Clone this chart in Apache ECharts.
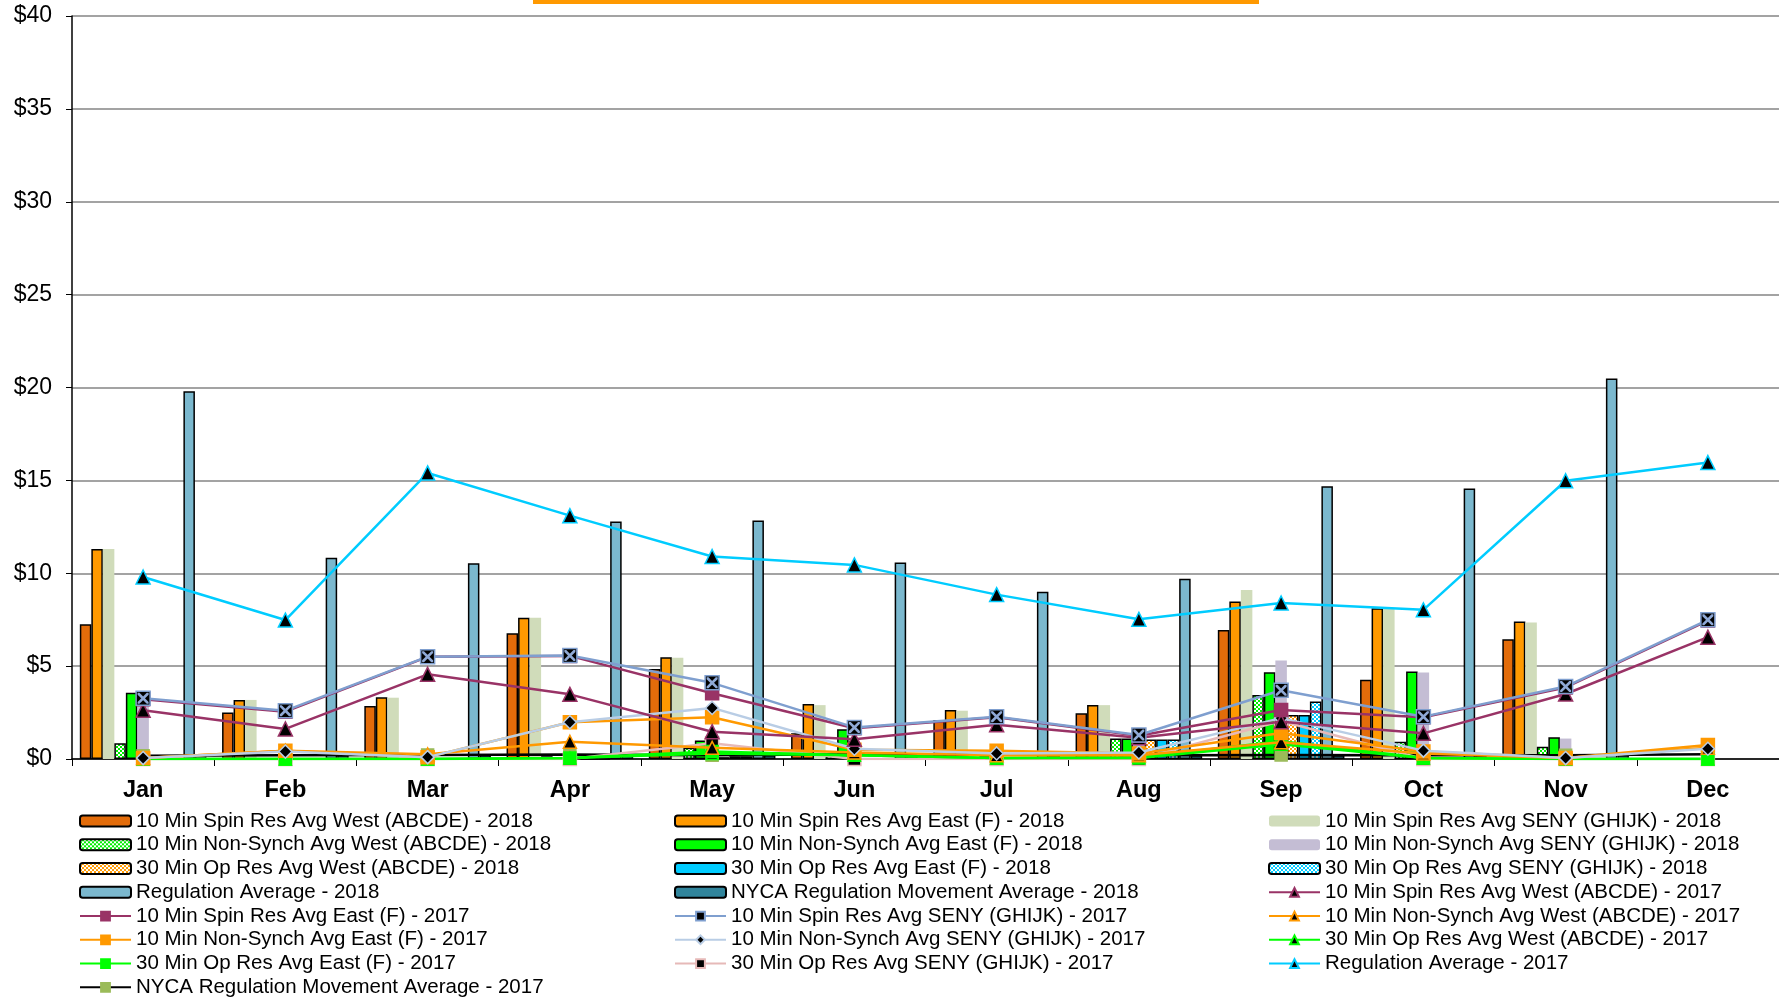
<!DOCTYPE html>
<html>
<head>
<meta charset="utf-8">
<title>Ancillary Services Averages 2017-2018</title>
<script src="https://cdn.jsdelivr.net/npm/echarts@6/dist/echarts.min.js"></script>
<style>
  html, body { margin: 0; padding: 0; background: #fff; }
  #chart { width: 1779px; height: 999px; }
</style>
</head>
<body>
<div id="chart"></div>
<script>
// Month categories
const months = ['Jan', 'Feb', 'Mar', 'Apr', 'May', 'Jun', 'Jul', 'Aug', 'Sep', 'Oct', 'Nov', 'Dec'];

// 2018 monthly averages ($/MWh), drawn as bars
const westSpin18 = [7.25, 2.5, 2.86, 6.77, 4.85, 1.38, 2.1, 2.46, 6.95, 4.26, 6.45, null];
const eastSpin18 = [11.3, 3.18, 3.32, 7.61, 5.48, 2.96, 2.64, 2.91, 8.48, 8.12, 7.4, null];
const senySpin18 = [11.3, 3.18, 3.3, 7.6, 5.45, 2.9, 2.6, 2.9, 9.1, 8.1, 7.35, null];
const westNS18 = [0.85, 0, 0, 0.15, 0.6, 0.25, 0.1, 1.1, 3.45, 0.93, 0.66, null];
const eastNS18 = [3.57, 0, 0, 0.1, 1.0, 1.6, 0.15, 1.1, 4.67, 4.71, 1.17, null];
const senyNS18 = [2.9, 0, 0, 0, 0.3, 0.2, 0.1, 1.3, 5.3, 4.66, 1.1, null];
const west30m18 = [0, 0, 0, 0, 0.1, 0, 0, 1.05, 2.37, 0, 0, null];
const east30m18 = [0, 0, 0, 0, 0.15, 0, 0, 1.05, 2.37, 0, 0, null];
const seny30m18 = [0, 0, 0, 0, 0.15, 0, 0, 1.05, 3.09, 0, 0, null];
const regAvg18 = [19.8, 10.83, 10.54, 12.78, 12.84, 10.58, 9.01, 9.7, 14.68, 14.56, 20.49, null];
const nycaMov18 = [0.2, 0.2, 0.2, 0.2, 0.2, 0.2, 0.2, 0.2, 0.2, 0.2, 0.2, null];

// 2017 monthly averages ($/MWh), drawn as lines
const westSpin17 = [2.62, 1.62, 4.56, 3.48, 1.47, 1.06, 1.85, 1.15, 2.0, 1.38, 3.5, 6.56];
const eastSpin17 = [3.22, 2.55, 5.5, 5.55, 3.54, 1.66, 2.25, 1.25, 2.64, 2.25, 3.85, 7.45];
const senySpin17 = [3.27, 2.6, 5.51, 5.57, 4.1, 1.7, 2.28, 1.29, 3.7, 2.28, 3.9, 7.49];
const westNS17 = [0.05, 0.45, 0.25, 0.93, 0.6, 0.35, 0.2, 0.2, 0.9, 0.3, 0.05, 0.6];
const eastNS17 = [0.05, 0.45, 0.1, 1.98, 2.25, 0.5, 0.45, 0.3, 1.4, 0.4, 0.05, 0.75];
const senyNS17 = [0.05, 0.4, 0.1, 1.98, 2.75, 0.55, 0.3, 0.35, 2.2, 0.45, 0.05, 0.55];
const west30m17 = [0, 0, 0, 0.05, 0.3, 0.2, 0.05, 0.05, 0.8, 0.05, 0, 0];
const east30m17 = [0, 0, 0, 0.05, 0.4, 0.2, 0.05, 0.1, 0.95, 0.05, 0, 0];
const seny30m17 = [0, 0, 0, 0, 0.85, 0, 0, 0, 2.05, 0, 0, 0];
const regAvg17 = [9.8, 7.48, 15.4, 13.1, 10.9, 10.45, 8.85, 7.52, 8.4, 8.03, 14.98, 15.96];
const nycaMov17 = [0.17, 0.2, 0.22, 0.24, 0.2, 0.25, 0.23, 0.2, 0.22, 0.2, 0.2, 0.25];

// Y axis ticks
const yTicks = { min: 0, max: 40, step: 5 };

const FONT = '"Liberation Sans", Arial, sans-serif';

// Small checkered fill used by the hatched bars
function checker(fg) {
  const c = document.createElement('canvas');
  c.width = 4; c.height = 4;
  const g = c.getContext('2d');
  g.fillStyle = fg; g.fillRect(0, 0, 4, 4);
  g.fillStyle = '#ffffff';
  g.fillRect(0, 0, 2, 2);
  g.fillRect(2, 2, 2, 2);
  return { image: c, repeat: 'repeat' };
}

// Diagonal cross drawn on top of the black square markers
const xGlyph = 'path://M0,0L1.7,0L10,8.3L10,10L8.3,10L0,1.7Z M10,0L10,1.7L1.7,10L0,10L0,8.3L8.3,0Z';

function bar(name, data, color, bordered) {
  return {
    name, type: 'bar', data,
    barGap: '0%', barCategoryGap: '11%',
    itemStyle: bordered
      ? { color, borderColor: '#000', borderWidth: 1.5 }
      : { color, borderWidth: 0 },
    emphasis: { disabled: true },
    z: 2
  };
}

function line(name, data, color, symbol, size, fill, border, z) {
  return {
    name, type: 'line', data,
    symbol, symbolSize: size,
    lineStyle: { color, width: 2.5 },
    itemStyle: { color: fill, borderColor: border, borderWidth: 1.5 },
    emphasis: { disabled: true },
    z: z || 3
  };
}

const N = {
  ws18: '10 Min Spin Res Avg West (ABCDE) - 2018',
  es18: '10 Min Spin Res Avg East (F) - 2018',
  ss18: '10 Min Spin Res Avg SENY (GHIJK) - 2018',
  wn18: '10 Min Non-Synch Avg West (ABCDE) - 2018',
  en18: '10 Min Non-Synch Avg East (F) - 2018',
  sn18: '10 Min Non-Synch Avg SENY (GHIJK) - 2018',
  w318: '30 Min Op Res Avg West (ABCDE) - 2018',
  e318: '30 Min Op Res Avg East (F) - 2018',
  s318: '30 Min Op Res Avg SENY (GHIJK) - 2018',
  ra18: 'Regulation Average - 2018',
  nm18: 'NYCA Regulation Movement Average - 2018',
  ws17: '10 Min Spin Res Avg West (ABCDE) - 2017',
  es17: '10 Min Spin Res Avg East (F) - 2017',
  ss17: '10 Min Spin Res Avg SENY (GHIJK) - 2017',
  wn17: '10 Min Non-Synch Avg West (ABCDE) - 2017',
  en17: '10 Min Non-Synch Avg East (F) - 2017',
  sn17: '10 Min Non-Synch Avg SENY (GHIJK) - 2017',
  w317: '30 Min Op Res Avg West (ABCDE) - 2017',
  e317: '30 Min Op Res Avg East (F) - 2017',
  s317: '30 Min Op Res Avg SENY (GHIJK) - 2017',
  ra17: 'Regulation Average - 2017',
  nm17: 'NYCA Regulation Movement Average - 2017'
};

const series = [
  bar(N.ws18, westSpin18, '#E36C0A', true),
  bar(N.es18, eastSpin18, '#FF9900', true),
  bar(N.ss18, senySpin18, '#D0DCBA', false),
  bar(N.wn18, westNS18, checker('#00EE00'), true),
  bar(N.en18, eastNS18, '#00FF00', true),
  bar(N.sn18, senyNS18, '#C4BDD4', false),
  bar(N.w318, west30m18, checker('#FF9900'), true),
  bar(N.e318, east30m18, '#00CCFF', true),
  bar(N.s318, seny30m18, checker('#00CCFF'), true),
  bar(N.ra18, regAvg18, '#7BB8CE', true),
  bar(N.nm18, nycaMov18, '#31859C', true),

  line(N.nm17, nycaMov17, '#000000', 'rect', 12, '#9BBB59', '#9BBB59', 3),
  line(N.s317, seny30m17, '#E6B9B8', 'rect', 13, '#000000', '#E6B9B8', 4),
  line(N.w317, west30m17, '#00FF00', 'triangle', 12, '#000000', '#00FF00', 4),
  line(N.e317, east30m17, '#00FF00', 'rect', 12, '#00FF00', '#00FF00', 4),
  line(N.wn17, westNS17, '#FF9900', 'triangle', 13, '#000000', '#FF9900', 5),
  line(N.en17, eastNS17, '#FF9900', 'rect', 13, '#FF9900', '#FF9900', 5),
  line(N.sn17, senyNS17, '#B9CDE5', 'diamond', 13, '#000000', '#B9CDE5', 6),
  line(N.ws17, westSpin17, '#993366', 'triangle', 14, '#000000', '#993366', 7),
  line(N.es17, eastSpin17, '#993366', 'rect', 13, '#993366', '#993366', 7),
  line(N.ss17, senySpin17, '#7F9FCF', 'rect', 14, '#000000', '#7F9FCF', 8),
  // cross glyph for the SENY spin markers (same series name, markers only)
  {
    name: N.ss17, type: 'line', data: senySpin17,
    symbol: xGlyph, symbolSize: 11,
    lineStyle: { width: 0, opacity: 0 },
    itemStyle: { color: '#8FA9D6', borderWidth: 0 },
    emphasis: { disabled: true },
    z: 9
  },
  line(N.ra17, regAvg17, '#00CCFF', 'triangle', 14, '#000000', '#00CCFF', 8)
];

function legendCol(left, names) {
  return {
    orient: 'vertical',
    left, top: 810.5,
    padding: 0,
    itemWidth: 51, itemHeight: 11,
    itemGap: 2.76,
    selectedMode: false,
    textStyle: { fontFamily: FONT, fontSize: 20.5, color: '#000', lineHeight: 20 },
    data: names
  };
}

const option = {
  animation: false,
  backgroundColor: '#ffffff',
  grid: { left: 72, right: 0, top: 16, bottom: 240, containLabel: false },
  xAxis: {
    type: 'category',
    data: months,
    axisLine: { lineStyle: { color: '#000', width: 1.5 } },
    axisTick: { show: true, length: 7, lineStyle: { color: '#000', width: 1 } },
    axisLabel: { fontFamily: FONT, fontSize: 23.5, fontWeight: 'bold', color: '#000', margin: 20 }
  },
  yAxis: {
    type: 'value',
    min: yTicks.min, max: yTicks.max, interval: yTicks.step,
    axisLine: { show: true, lineStyle: { color: '#000', width: 1.5 } },
    axisTick: { show: true, length: 6, lineStyle: { color: '#000', width: 1 } },
    axisLabel: { fontFamily: FONT, fontSize: 23, color: '#000', margin: 20, formatter: v => '$' + v },
    splitLine: { show: true, lineStyle: { color: '#858585', width: 1.5 } }
  },
  legend: [
    legendCol(79, [N.ws18, N.wn18, N.w318, N.ra18, N.es17, N.en17, N.e317, N.nm17]),
    legendCol(674, [N.es18, N.en18, N.e318, N.nm18, N.ss17, N.sn17, N.s317]),
    legendCol(1268, [N.ss18, N.sn18, N.s318, N.ws17, N.wn17, N.w317, N.ra17])
  ],
  graphic: [
    { type: 'rect', left: 533, top: 0, shape: { width: 726, height: 4 }, style: { fill: '#FF9900' }, z: 10 }
  ],
  series
};

const chart = echarts.init(document.getElementById('chart'), null, { renderer: 'canvas' });
chart.setOption(option);
</script>
</body>
</html>
